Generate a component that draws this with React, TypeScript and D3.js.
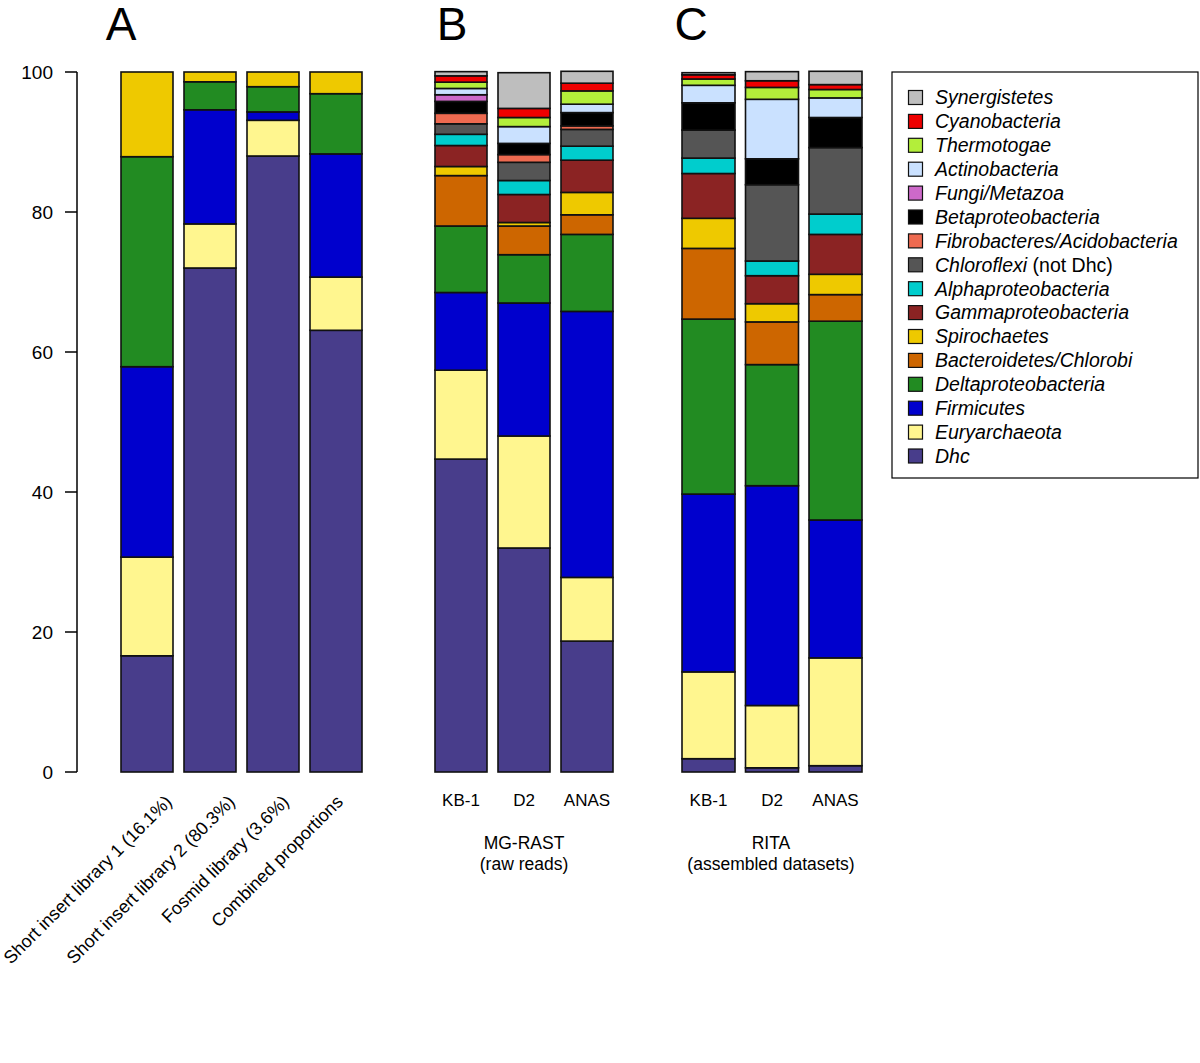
import React from "react";
import * as d3 from "d3";

// Bars (left to right)
const panelA = ["Short insert library 1 (16.1%)", "Short insert library 2 (80.3%)", "Fosmid library (3.6%)", "Combined proportions"];
const panelB = ["KB-1", "D2", "ANAS"];
const panelC = ["KB-1", "D2", "ANAS"];

// Taxa, stacked bottom -> top
const taxa = [
  "Dhc", "Euryarchaeota", "Firmicutes", "Deltaproteobacteria", "Bacteroidetes/Chlorobi",
  "Spirochaetes", "Gammaproteobacteria", "Alphaproteobacteria", "Chloroflexi", "Fibrobacteres/Acidobacteria",
  "Betaproteobacteria", "Fungi/Metazoa", "Actinobacteria", "Thermotogae", "Cyanobacteria", "Synergistetes",
];
const colors = [
  "#483D8B", "#FFF68F", "#0000CD", "#228B22", "#CD6600",
  "#EEC900", "#8B2323", "#00CDCD", "#555555", "#EE6A50",
  "#000000", "#CD69C9", "#CAE1FF", "#B3EE3A", "#EE0000", "#BEBEBE",
];

// Values per taxon for the 10 bars: A1..A4, B KB-1, D2, ANAS, C KB-1, D2, ANAS
const dhc = [16.6, 72.0, 88.0, 63.1, 44.7, 32.0, 18.7, 1.9, 0.6, 0.9];
const eury = [14.1, 6.3, 5.1, 7.6, 12.7, 16.0, 9.1, 12.4, 8.9, 15.4];
const firm = [27.2, 16.3, 1.2, 17.6, 11.1, 19.0, 38.0, 25.4, 31.4, 19.7];
const delta = [30.0, 4.0, 3.6, 8.6, 9.5, 6.9, 11.0, 25.0, 17.3, 28.4];
const bact = [0, 0, 0, 0, 7.2, 4.1, 2.8, 10.1, 6.1, 3.8];
const spiro = [12.1, 1.4, 2.1, 3.1, 1.3, 0.5, 3.2, 4.3, 2.6, 2.9];
const gamma = [0, 0, 0, 0, 3.0, 4.0, 4.6, 6.4, 4.0, 5.7];
const alpha = [0, 0, 0, 0, 1.6, 2.0, 2.0, 2.2, 2.1, 2.9];
const chloro = [0, 0, 0, 0, 1.5, 2.6, 2.4, 4.0, 10.9, 9.5];
const fibro = [0, 0, 0, 0, 1.5, 1.1, 0.5, 0, 0, 0];
const beta = [0, 0, 0, 0, 1.7, 1.6, 1.9, 3.9, 3.7, 4.3];
const fungi = [0, 0, 0, 0, 0.95, 0, 0, 0, 0, 0];
const actino = [0, 0, 0, 0, 0.9, 2.4, 1.2, 2.5, 8.5, 2.8];
const thermo = [0, 0, 0, 0, 0.9, 1.3, 1.9, 0.9, 1.7, 1.2];
const cyano = [0, 0, 0, 0, 0.9, 1.3, 1.1, 0.6, 0.95, 0.7];
const syn = [0, 0, 0, 0, 0.6, 5.1, 1.7, 0.3, 1.3, 1.9];

const series = [dhc, eury, firm, delta, bact, spiro, gamma, alpha, chloro, fibro, beta, fungi, actino, thermo, cyano, syn];

const legendOrder = [
  "Synergistetes", "Cyanobacteria", "Thermotogae", "Actinobacteria", "Fungi/Metazoa",
  "Betaproteobacteria", "Fibrobacteres/Acidobacteria", "Chloroflexi", "Alphaproteobacteria",
  "Gammaproteobacteria", "Spirochaetes", "Bacteroidetes/Chlorobi", "Deltaproteobacteria",
  "Firmicutes", "Euryarchaeota", "Dhc",
];

const yTicks = [0, 20, 40, 60, 80, 100];
const FONT = "'Liberation Sans', Arial, Helvetica, sans-serif";

export default function App() {
  const y = d3.scaleLinear().domain([0, 100]).range([772, 72]);

  const mkScale = (names: string[], x0: number, step: number, bw: number) =>
    d3.scaleBand<string>()
      .domain(names.map((n, i) => i + ":" + n))
      .range([x0, x0 + names.length * step - (step - bw)])
      .paddingInner((step - bw) / step)
      .paddingOuter(0);

  const panels = [
    { names: panelA, scale: mkScale(panelA, 121, 63, 52), offset: 0 },
    { names: panelB, scale: mkScale(panelB, 435, 63, 52), offset: 4 },
    { names: panelC, scale: mkScale(panelC, 682, 63.5, 53), offset: 7 },
  ];

  const stack = d3.stack<number[], number>()
    .keys(d3.range(series.length))
    .value((d, k) => d[k]);
  const rows = d3.range(10).map((i) => series.map((s) => s[i]));
  const stacked = stack(rows);

  const bars: JSX.Element[] = [];
  panels.forEach((p) => {
    p.names.forEach((n, j) => {
      const gi = p.offset + j;
      const x = p.scale(j + ":" + n)!;
      const w = p.scale.bandwidth();
      stacked.forEach((layer, k) => {
        const [y0, y1] = layer[gi];
        if (y1 - y0 <= 0) return;
        bars.push(
          <rect key={`${gi}-${k}`} x={x} width={w} y={y(y1)} height={y(y0) - y(y1)}
            fill={colors[k]} stroke="#111" strokeWidth={1.6} />
        );
      });
    });
  });

  const sA = panels[0].scale, sB = panels[1].scale, sC = panels[2].scale;
  const center = (s: d3.ScaleBand<string>, key: string) => s(key)! + s.bandwidth() / 2;
  const rotShift = [26, 26, 17, 8];

  return (
    <svg width={1200} height={1063} style={{ position: "absolute", left: 0, top: 0, background: "#fff" }}
      fontFamily={FONT}>
      <rect x={0} y={0} width={1200} height={1063} fill="#fff" />
      {/* Panel letters */}
      <text x={121} y={40} fontSize={46} textAnchor="middle">A</text>
      <text x={452} y={40} fontSize={46} textAnchor="middle">B</text>
      <text x={691} y={40} fontSize={46} textAnchor="middle">C</text>

      {/* Y axis */}
      <line x1={77} x2={77} y1={y(0)} y2={y(100)} stroke="#000" strokeWidth={1.5} />
      {yTicks.map((t) => (
        <g key={t}>
          <line x1={65} x2={77} y1={y(t)} y2={y(t)} stroke="#000" strokeWidth={1.5} />
          <text x={53} y={y(t)} dy="0.35em" textAnchor="end" fontSize={19}>{t}</text>
        </g>
      ))}

      {bars}

      {/* Panel A rotated labels */}
      {panelA.map((n, i) => {
        const cx = center(sA, i + ":" + n);
        return (
          <text key={n} transform={`translate(${cx + rotShift[i]},${803}) rotate(-45)`} textAnchor="end" fontSize={18}>{n}</text>
        );
      })}

      {/* Panel B/C labels */}
      {panelB.map((n, i) => (
        <text key={"b" + n} x={center(sB, i + ":" + n)} y={806} textAnchor="middle" fontSize={17}>{n}</text>
      ))}
      {panelC.map((n, i) => (
        <text key={"c" + n} x={center(sC, i + ":" + n)} y={806} textAnchor="middle" fontSize={17}>{n}</text>
      ))}
      <text x={524} y={849} textAnchor="middle" fontSize={17.5}>MG-RAST</text>
      <text x={524} y={870} textAnchor="middle" fontSize={17.5}>(raw reads)</text>
      <text x={771} y={849} textAnchor="middle" fontSize={17.5}>RITA</text>
      <text x={771} y={870} textAnchor="middle" fontSize={17.5}>(assembled datasets)</text>

      {/* Legend */}
      <rect x={892} y={72} width={306} height={406} fill="#fff" stroke="#000" strokeWidth={1.2} />
      {legendOrder.map((name, i) => {
        const k = taxa.indexOf(name);
        const cy = 97.5 + i * 23.9;
        return (
          <g key={name}>
            <rect x={908.5} y={cy - 7} width={14} height={14} fill={colors[k]} stroke="#111" strokeWidth={1.2} />
            <text x={935} y={cy} dy="0.35em" fontSize={19.5}>
              {name === "Chloroflexi" ? (
                <>
                  <tspan fontStyle="italic">Chloroflexi</tspan>
                  <tspan> (not Dhc)</tspan>
                </>
              ) : (
                <tspan fontStyle="italic">{name}</tspan>
              )}
            </text>
          </g>
        );
      })}
    </svg>
  );
}
